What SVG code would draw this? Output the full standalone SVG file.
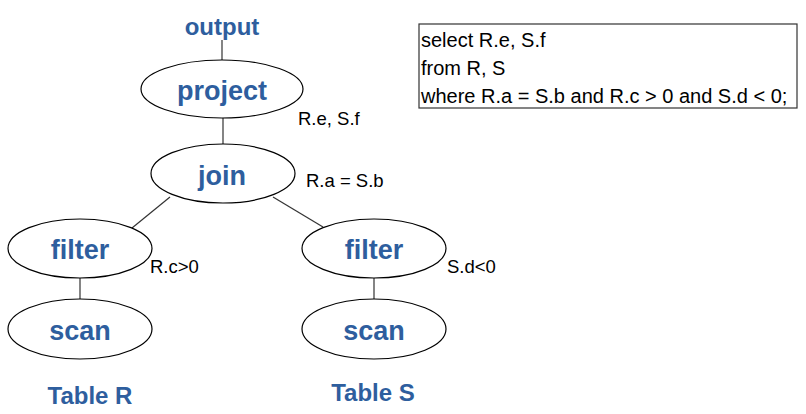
<svg xmlns="http://www.w3.org/2000/svg" width="806" height="414" viewBox="0 0 806 414">
<style>
.n{fill:#fff;stroke:#000;stroke-width:1.2}
.l{font-family:"Liberation Sans",Arial,sans-serif;font-weight:bold;fill:#2E5E9E;text-anchor:middle}
.t{font-family:"Liberation Sans",Arial,sans-serif;font-size:18.5px;fill:#000}
.q{font-family:"Liberation Sans",Arial,sans-serif;font-size:20px;fill:#000}
.e{stroke:#333;stroke-width:1.2;fill:none}
</style>
<rect width="806" height="414" fill="#fff"/>
<g id="connectors">
<line class="e" x1="222" y1="40" x2="222" y2="60"/>
<line class="e" x1="223" y1="118" x2="223" y2="144"/>
<line class="e" x1="170" y1="197" x2="132" y2="228"/>
<line class="e" x1="273" y1="197" x2="323" y2="227"/>
<line class="e" x1="80" y1="278" x2="80" y2="299"/>
<line class="e" x1="374" y1="278" x2="374" y2="299"/>
</g>
<g id="output"><text class="l" x="222" y="35" font-size="24">output</text></g>
<g id="project">
<ellipse class="n" cx="222" cy="89" rx="81" ry="29"/>
<text class="l" x="222" y="100" font-size="27">project</text>
<text class="t" x="298" y="125">R.e, S.f</text>
</g>
<g id="join">
<ellipse class="n" cx="223" cy="173.5" rx="72" ry="29.5"/>
<text class="l" x="222" y="185" font-size="27">join</text>
<text class="t" x="306" y="187">R.a = S.b</text>
</g>
<g id="filterR">
<ellipse class="n" cx="80" cy="248.5" rx="72" ry="29.5"/>
<text class="l" x="80" y="259" font-size="27">filter</text>
<text class="t" x="150" y="273">R.c&gt;0</text>
</g>
<g id="scanR">
<ellipse class="n" cx="80" cy="329" rx="72" ry="30"/>
<text class="l" x="80" y="340" font-size="27">scan</text>
</g>
<g id="filterS">
<ellipse class="n" cx="374" cy="248.5" rx="72" ry="29.5"/>
<text class="l" x="374" y="259" font-size="27">filter</text>
<text class="t" x="447" y="273">S.d&lt;0</text>
</g>
<g id="scanS">
<ellipse class="n" cx="374" cy="329" rx="72" ry="30"/>
<text class="l" x="374" y="340" font-size="27">scan</text>
</g>
<g id="tableR"><text class="l" x="90" y="404" font-size="24">Table R</text></g>
<g id="tableS"><text class="l" x="373" y="401" font-size="24">Table S</text></g>
<g id="query">
<rect x="419" y="24" width="378" height="84" fill="#fff" stroke="#333" stroke-width="1.2"/>
<text class="q" x="421" y="47">select R.e, S.f</text>
<text class="q" x="421" y="75">from R, S</text>
<text class="q" x="421" y="103">where R.a = S.b and R.c &gt; 0 and S.d &lt; 0;</text>
</g>
</svg>
